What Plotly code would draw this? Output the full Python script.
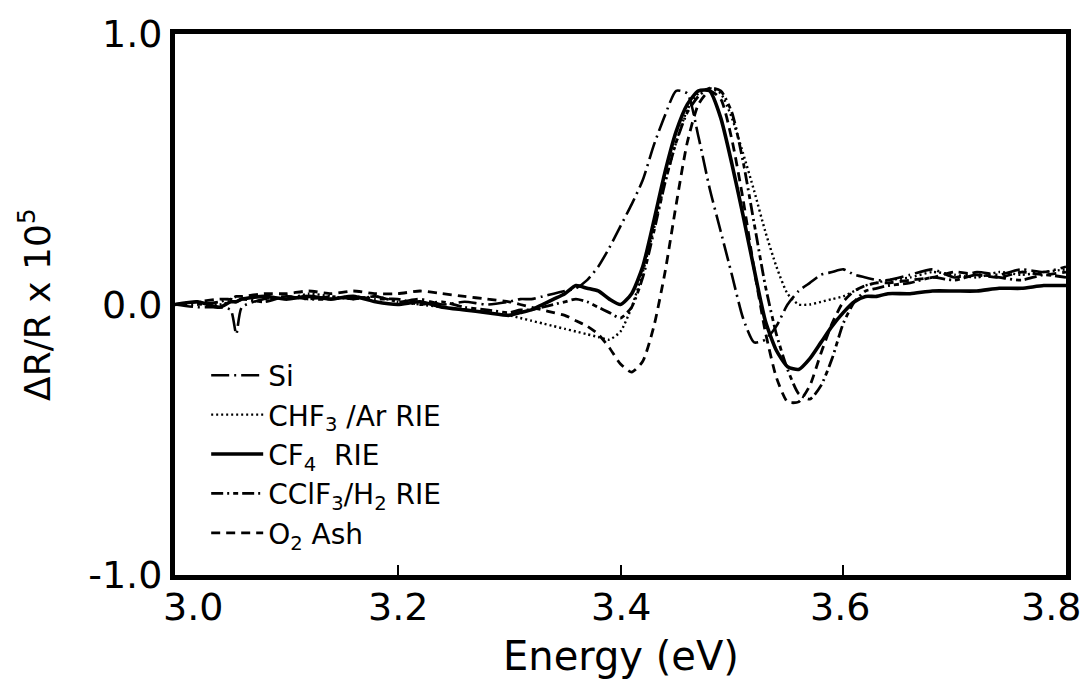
import plotly.graph_objects as go

# Photon energy grid (eV)
energy = [3.00, 3.02, 3.04, 3.05, 3.055, 3.06, 3.08, 3.10, 3.12, 3.14, 3.16, 3.18,
          3.20, 3.22, 3.24, 3.26, 3.28, 3.30, 3.31, 3.32, 3.33, 3.34, 3.35, 3.36,
          3.37, 3.38, 3.39, 3.40, 3.41, 3.42, 3.43, 3.44, 3.45, 3.46, 3.47, 3.48,
          3.49, 3.50, 3.51, 3.52, 3.53, 3.54, 3.55, 3.56, 3.57, 3.58, 3.59, 3.60,
          3.61, 3.62, 3.63, 3.64, 3.66, 3.68, 3.70, 3.72, 3.74, 3.76, 3.78, 3.80]

si = [0.00, -0.01, -0.01, -0.02, -0.11, -0.01, 0.02, 0.03, 0.02, 0.03, 0.02, 0.03,
      0.01, 0.02, 0.00, 0.01, 0.00, 0.01, 0.02, 0.02, 0.03, 0.04, 0.05, 0.06,
      0.09, 0.14, 0.21, 0.29, 0.37, 0.46, 0.59, 0.70, 0.79, 0.78, 0.62, 0.43,
      0.27, 0.11, -0.05, -0.14, -0.13, -0.08, 0.00, 0.05, 0.08, 0.11, 0.12, 0.13,
      0.11, 0.10, 0.09, 0.09, 0.11, 0.13, 0.10, 0.12, 0.11, 0.13, 0.12, 0.14]

chf3_ar = [0.00, 0.01, 0.00, 0.01, 0.01, 0.02, 0.03, 0.02, 0.04, 0.03, 0.02, 0.03,
           0.01, 0.00, -0.01, -0.02, -0.03, -0.04, -0.05, -0.06, -0.07, -0.08, -0.09, -0.10,
           -0.11, -0.12, -0.13, -0.10, -0.01, 0.12, 0.28, 0.45, 0.60, 0.72, 0.78, 0.80,
           0.78, 0.69, 0.56, 0.42, 0.27, 0.14, 0.04, 0.00, 0.00, 0.01, 0.02, 0.03,
           0.05, 0.07, 0.08, 0.09, 0.10, 0.12, 0.11, 0.10, 0.12, 0.11, 0.12, 0.13]

cf4 = [0.00, 0.01, -0.01, 0.01, 0.01, 0.02, 0.03, 0.02, 0.03, 0.02, 0.03, 0.01,
       0.00, 0.01, -0.01, -0.02, -0.03, -0.04, -0.03, -0.02, 0.00, 0.02, 0.04, 0.07,
       0.06, 0.05, 0.02, 0.00, 0.04, 0.14, 0.31, 0.49, 0.64, 0.74, 0.79, 0.79,
       0.69, 0.52, 0.33, 0.13, -0.06, -0.17, -0.23, -0.24, -0.20, -0.14, -0.08, -0.03,
       0.01, 0.03, 0.03, 0.04, 0.04, 0.05, 0.05, 0.05, 0.06, 0.06, 0.07, 0.07]

cclf3_h2 = [0.00, 0.00, 0.01, 0.02, 0.01, 0.02, 0.01, 0.03, 0.02, 0.02, 0.03, 0.02,
            0.02, 0.00, 0.01, -0.01, -0.02, -0.03, -0.02, -0.02, -0.01, 0.00, 0.01, 0.02,
            0.01, -0.01, -0.03, -0.05, -0.01, 0.10, 0.27, 0.45, 0.60, 0.71, 0.77, 0.80,
            0.79, 0.71, 0.53, 0.30, 0.07, -0.11, -0.24, -0.33, -0.35, -0.30, -0.20, -0.07,
            0.01, 0.05, 0.06, 0.07, 0.08, 0.10, 0.09, 0.11, 0.10, 0.09, 0.11, 0.10]

o2_ash = [0.00, 0.01, 0.02, 0.02, 0.03, 0.03, 0.04, 0.04, 0.05, 0.04, 0.05, 0.04,
          0.04, 0.05, 0.04, 0.03, 0.02, 0.01, 0.00, -0.01, -0.02, -0.03, -0.04, -0.06,
          -0.08, -0.11, -0.16, -0.22, -0.25, -0.21, -0.08, 0.12, 0.37, 0.60, 0.74, 0.79,
          0.76, 0.61, 0.39, 0.13, -0.10, -0.27, -0.36, -0.36, -0.30, -0.18, -0.07, 0.01,
          0.05, 0.07, 0.08, 0.08, 0.09, 0.10, 0.12, 0.11, 0.10, 0.12, 0.11, 0.12]

names = ["Si", "CHF<sub>3</sub> /Ar RIE", "CF<sub>4</sub>  RIE",
         "CClF<sub>3</sub>/H<sub>2</sub> RIE", "O<sub>2</sub> Ash"]

x_ticks = [3.0, 3.2, 3.4, 3.6, 3.8]
x_tick_labels = ["3.0", "3.2", "3.4", "3.6", "3.8"]
y_ticks = [-1.0, 0.0, 1.0]
y_tick_labels = ["-1.0", "0.0", "1.0"]

series = [si, chf3_ar, cf4, cclf3_h2, o2_ash]
styles = [
    dict(dash="18px,5px,2px,5px", width=2.6),
    dict(dash="2px,3px", width=2.4),
    dict(dash="solid", width=3.6),
    dict(dash="12px,4px,2px,4px,5px,4px", width=2.8),
    dict(dash="9px,6px", width=2.8),
]

FONT = "DejaVu Sans"
fig = go.Figure()
for i, (vals, nm, st) in enumerate(zip(series, names, styles)):
    fig.add_trace(go.Scatter(
        x=energy, y=vals, mode="lines", name=nm, legendgroup=f"g{i}",
        line=dict(color="black", width=st["width"], dash=st["dash"], shape="spline", smoothing=0.6),
    ))

axis_common = dict(
    showline=True, linecolor="black", linewidth=5, mirror=True,
    ticks="inside", tickcolor="black", tickwidth=2, ticklen=10,
    showgrid=False, zeroline=False,
    tickfont=dict(family=FONT, size=38, color="black"),
)

# x tick labels as annotations so the edge labels stay inside the page
label_shift = [18, 0, 0, -3, -15]
annotations = []
for xv, lab, sh in zip(x_ticks, x_tick_labels, label_shift):
    annotations.append(dict(
        x=xv, y=0, xref="x", yref="paper", yanchor="top", xanchor="center",
        text=lab, showarrow=False, xshift=sh, yshift=-8,
        font=dict(family=FONT, size=38, color="black"),
    ))
annotations.append(dict(
    x=0.5, y=0, xref="paper", yref="paper", yanchor="top", xanchor="center",
    text="Energy (eV)", showarrow=False, yshift=-56,
    font=dict(family=FONT, size=40, color="black"),
))

fig.update_layout(
    width=1086, height=679,
    margin=dict(l=175, r=20, t=28, b=104),
    paper_bgcolor="white", plot_bgcolor="white",
    showlegend=True,
    legend=dict(
        x=0.035, y=0.415, xanchor="left", yanchor="top",
        bgcolor="rgba(0,0,0,0)", borderwidth=0,
        font=dict(family=FONT, size=28, color="black"),
        tracegroupgap=0, itemwidth=52,
    ),
    xaxis=dict(range=[3.0, 3.8], tickvals=x_ticks, ticktext=x_tick_labels,
               showticklabels=False, **axis_common),
    yaxis=dict(range=[-1.0, 1.0], tickvals=y_ticks, ticktext=y_tick_labels,
               title=dict(text="ΔR/R x 10<sup>5</sup>", font=dict(family=FONT, size=36, color="black"), standoff=28),
               **axis_common),
    annotations=annotations,
)

fig.write_html("out.html")
